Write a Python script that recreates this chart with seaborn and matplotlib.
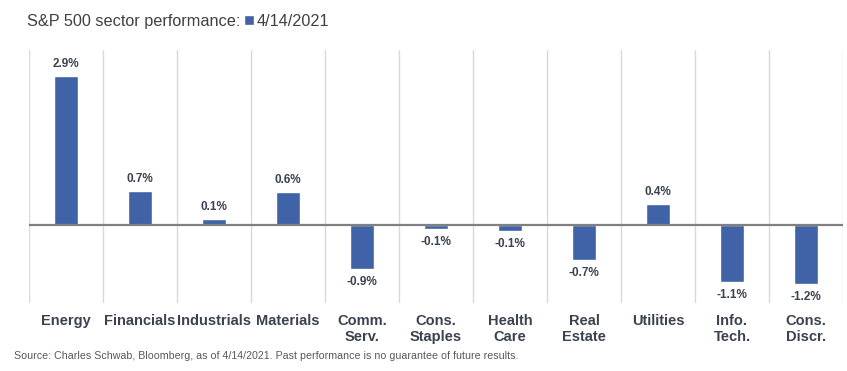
import matplotlib
matplotlib.use("Agg")
import matplotlib.pyplot as plt
import seaborn as sns
import pandas as pd

# sector performance, 4/14/2021
sectors = ["Energy", "Financials", "Industrials", "Materials", "Comm.\nServ.",
           "Cons.\nStaples", "Health\nCare", "Real\nEstate", "Utilities",
           "Info.\nTech.", "Cons.\nDiscr."]
returns = [2.92, 0.66, 0.11, 0.64, -0.88, -0.09, -0.13, -0.70, 0.40, -1.14, -1.18]
series_name = "4/14/2021"

BLUE = "#3f63a6"
TEXT = "#3b4350"

sns.set_style("white")
plt.rcParams["font.family"] = ["Liberation Sans", "DejaVu Sans"]

df = pd.DataFrame({"sector": sectors, "ret": returns})

fig = plt.figure(figsize=(8.47, 3.71), dpi=100)
ax = fig.add_axes([0.0342, 0.183, 0.961, 0.682])

sns.barplot(data=df, x="sector", y="ret", color=BLUE, width=0.33,
            saturation=1, ax=ax, label=series_name)

ax.set_xlim(-0.5, len(sectors) - 0.5)
ax.set_ylim(-1.55, 3.44)

# separators between categories
for b in range(len(sectors) + 1):
    ax.axvline(b - 0.5, color="#d9d9d9", lw=1, zorder=0)
ax.axhline(0, color="#808080", lw=1.6, zorder=3)

# value labels
for i, v in enumerate(returns):
    if v >= 0:
        ax.text(i, v + 0.12, f"{v:.1f}%", ha="center", va="bottom",
                fontsize=8.5, fontweight="bold", color=TEXT)
    else:
        ax.text(i, v - 0.14, f"{v:.1f}%", ha="center", va="top",
                fontsize=8.5, fontweight="bold", color=TEXT)

ax.set_xlabel("")
ax.set_ylabel("")
ax.set_yticks([])
ax.tick_params(axis="x", length=0, pad=8)
for lab in ax.get_xticklabels():
    lab.set_fontsize(10.5)
    lab.set_fontweight("bold")
    lab.set_color(TEXT)
for s in ax.spines.values():
    s.set_visible(False)

# title with inline legend right after it
title = fig.text(0.032, 0.943, "S&P 500 sector performance:", fontsize=11.7,
                 color="#404040", va="center", ha="left")
fig.canvas.draw()
bb = title.get_window_extent().transformed(fig.transFigure.inverted())
ax.legend(loc="center left", bbox_to_anchor=(bb.x1 + 0.004, 0.943),
          bbox_transform=fig.transFigure, frameon=False, fontsize=11.7,
          handlelength=0.6, handleheight=0.6, handletextpad=0.2,
          labelcolor="#404040", borderpad=0, borderaxespad=0)

fig.text(0.016, 0.04, "Source: Charles Schwab, Bloomberg, as of 4/14/2021. "
         "Past performance is no guarantee of future results.",
         fontsize=7.65, color="#595959", va="center", ha="left")

fig.savefig("out.png", dpi=100)
